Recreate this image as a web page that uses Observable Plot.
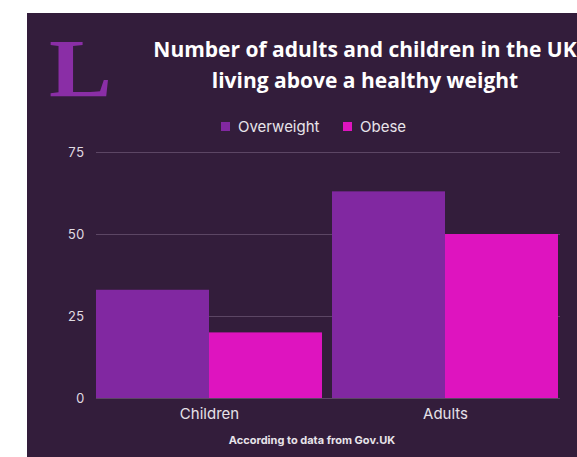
<!DOCTYPE html>
<html><head><meta charset="utf-8">
<script src="https://cdn.jsdelivr.net/npm/d3@7"></script>
<script src="https://cdn.jsdelivr.net/npm/@observablehq/plot@0.6"></script>
<style>
html,body{margin:0;padding:0;background:#fff;width:577px;height:457px;overflow:hidden}
#card{position:absolute;left:27px;top:13px;width:550px;height:444px;background:#331d3b;overflow:hidden;font-family:Inter,sans-serif}
#logo{position:absolute;left:22px;top:15px;font:bold 82px/82px "Liberation Serif",serif;color:#8a2ea6;transform:scaleX(1.15);transform-origin:0 0}
#title{position:absolute;left:113px;top:21px;width:450px;text-align:center;color:#fff;font:700 21px/31px "Open Sans",sans-serif;white-space:nowrap}
.leg{position:absolute;top:105px;height:18px;line-height:18px;font-size:15px;color:#e8e4ea;white-space:nowrap}
.sw{display:inline-block;width:9px;height:9px;margin-right:8px;vertical-align:1px}
#chart{position:absolute;left:0;top:127px}
#caption{position:absolute;left:135px;width:300px;top:420px;text-align:center;font:700 11px/14px Inter,sans-serif;color:#e8e4ea}
</style></head>
<body>
<div id="card">
  <div id="logo">L</div>
  <div id="title">Number of adults and children in the UK<br>living above a healthy weight</div>
  <div id="legend"></div>
  <div id="chart"></div>
  <div id="caption">According to data from Gov.UK</div>
</div>
<script>
const groups = ["Children", "Adults"];
const series = ["Overweight", "Obese"];
const overweight = [33, 63];
const obese = [20, 50];
const yTicks = [0, 25, 50, 75];
const colors = ["#8128a1", "#de14bf"];

const data = [];
groups.forEach((g, i) => {
  data.push({group: g, series: series[0], value: overweight[i]});
  data.push({group: g, series: series[1], value: obese[i]});
});

// legend
const legLeft = [194, 316];
const legend = document.getElementById("legend");
series.forEach((s, i) => {
  const d = document.createElement("div");
  d.className = "leg";
  d.style.left = legLeft[i] + "px";
  d.innerHTML = `<span class="sw" style="background:${colors[i]}"></span>${s}`;
  legend.appendChild(d);
});

const W = 550, ML = 68, MR = 18;
const chart = Plot.plot({
  width: W, height: 290,
  marginTop: 12, marginBottom: 32, marginLeft: ML, marginRight: MR,
  style: {background: "transparent", color: "#e6e1e8", fontFamily: "Inter, sans-serif"},
  fx: {domain: groups, padding: 0.042, label: null, axis: null},
  x: {domain: series, padding: 0, axis: null},
  y: {domain: [0, 75]},
  color: {domain: series, range: colors},
  marks: [
    Plot.axisY(yTicks, {
      tickSize: -(W - ML - MR), tickPadding: (W - ML - MR) + 12,
      stroke: "#5c4664", fill: "#e0dbe2", fontSize: 13, label: null
    }),
    Plot.barY(data, {fx: "group", x: "series", y: "value", fill: "series"}),
    Plot.axisFx({anchor: "bottom", tickSize: 0, tickPadding: 10, fontSize: 15, fill: "#e6e1e8", label: null})
  ]
});
document.getElementById("chart").appendChild(chart);
</script>
</body></html>
